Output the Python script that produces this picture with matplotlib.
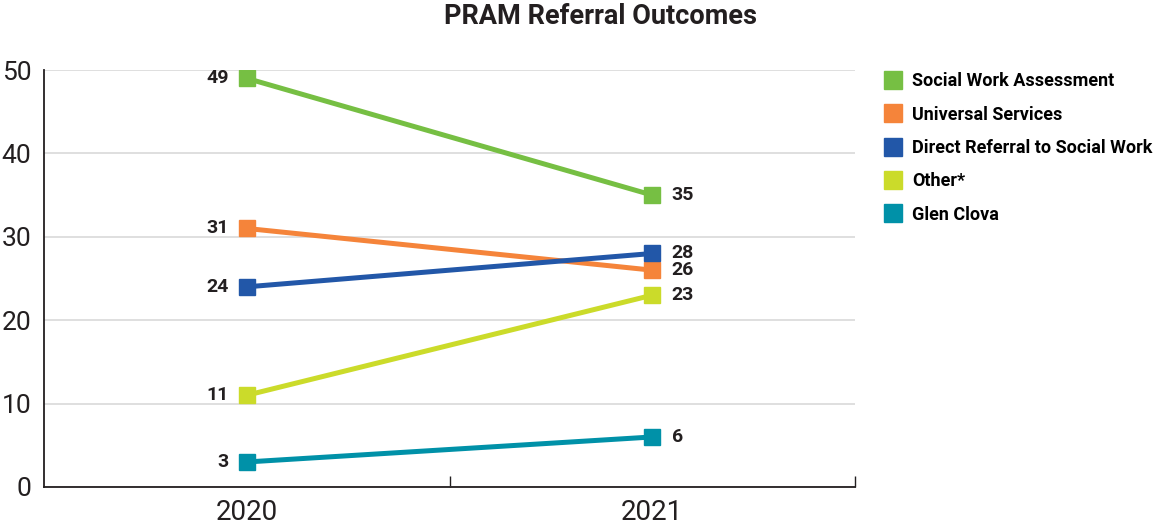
import matplotlib.pyplot as plt
from matplotlib.lines import Line2D

# data
years = ["2020", "2021"]
series = ["Social Work Assessment", "Universal Services",
          "Direct Referral to Social Work", "Other*", "Glen Clova"]
values_2020 = [49, 31, 24, 11, 3]
values_2021 = [35, 26, 28, 23, 6]
colors = ["#76bf43", "#f5843a", "#2257a8", "#cbdb2a", "#0091a8"]

plt.rcParams["font.family"] = ["Roboto", "DejaVu Sans"]
txt = "#231f20"

fig = plt.figure(figsize=(11.65, 5.29), dpi=100)
ax = fig.add_axes([44 / 1165, 42 / 529, 811 / 1165, 417 / 529])

x = [0, 1]
for name, a, b, c in zip(series, values_2020, values_2021, colors):
    ax.plot(x, [a, b], color=c, lw=3.6, marker="s", ms=11, label=name,
            solid_capstyle="butt")
    ax.annotate(str(a), (0, a), xytext=(-13, 0), textcoords="offset points",
                ha="right", va="center", fontsize=14, fontweight="bold", color=txt)
    ax.annotate(str(b), (1, b), xytext=(14, 0), textcoords="offset points",
                ha="left", va="center", fontsize=14, fontweight="bold", color=txt)

ax.set_xlim(-0.5, 1.5)
ax.set_ylim(0, 50)
ax.set_yticks(range(0, 51, 10))
ax.set_xticks(x)
ax.set_xticklabels(years)
ax.set_xticks([0.5, 1.5], minor=True)
ax.tick_params(axis="x", which="major", length=0, labelsize=20, colors=txt, pad=9)
ax.tick_params(axis="x", which="minor", length=8, direction="in", width=1, color=txt)
ax.tick_params(axis="y", length=0, labelsize=19, colors=txt, pad=9)

ax.grid(axis="y", color="#d9d9d9", lw=1.2)
ax.set_axisbelow(True)
for s in ["top", "right"]:
    ax.spines[s].set_visible(False)
for s in ["left", "bottom"]:
    ax.spines[s].set_color(txt)
    ax.spines[s].set_linewidth(1.3)

handles = [Line2D([], [], ls="none", marker="s", ms=13, color=c) for c in colors]
fig.legend(handles, series, loc="upper left", bbox_to_anchor=(868 / 1165, 1 - 56 / 529),
           frameon=False, handlelength=1.0, handletextpad=0.55,
           labelspacing=0.85, prop={"weight": "bold", "size": 13})

fig.text(600 / 1165, 1 - 17 / 529, "PRAM Referral Outcomes", ha="center", va="center",
         fontsize=19.5, fontweight="bold", color=txt)

fig.savefig("out.png")
